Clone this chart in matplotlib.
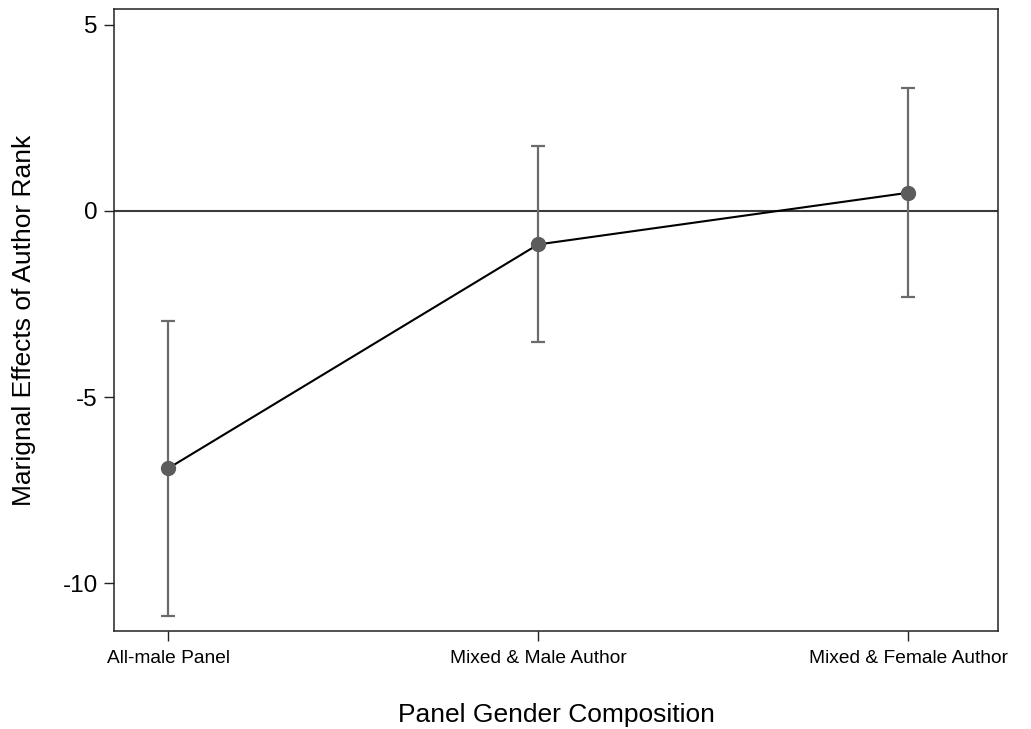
import matplotlib
matplotlib.use("Agg")
import matplotlib.pyplot as plt

plt.rcParams["font.family"] = ["Liberation Sans", "DejaVu Sans"]
plt.rcParams["axes.unicode_minus"] = False

# Marginal effects of author rank by panel gender composition
categories = ["All-male Panel", "Mixed & Male Author", "Mixed & Female Author"]
effects = [-6.92, -0.90, 0.49]
ci_lower = [-10.89, -3.53, -2.32]
ci_upper = [-2.96, 1.74, 3.30]
yticks = [5, 0, -5, -10]

fig = plt.figure(figsize=(10.31, 7.29), dpi=100)
ax = fig.add_axes([0.1106, 0.1344, 0.8574, 0.8533])

x = list(range(len(categories)))
err_lo = [e - lo for e, lo in zip(effects, ci_lower)]
err_hi = [hi - e for e, hi in zip(effects, ci_upper)]

ax.axhline(0, color="#3a3a3a", lw=1.5, zorder=1)
ax.errorbar(x, effects, yerr=[err_lo, err_hi], fmt="none",
            ecolor="#6b6b6b", elinewidth=1.6, capsize=4.7, capthick=1.6, zorder=2)
ax.plot(x, effects, color="black", lw=1.5, zorder=3)
ax.plot(x, effects, "o", color="#5c5c5c", ms=10, zorder=4)

ax.set_xlim(-0.146, 2.243)
ax.set_ylim(-11.29, 5.43)
ax.set_xticks(x)
ax.set_xticklabels(categories, fontsize=13.8)
ax.set_yticks(yticks)
ax.set_yticklabels([str(v) for v in yticks], fontsize=17.5)
ax.tick_params(axis="both", direction="out", length=7.5, width=1.0, color="#222222")
ax.tick_params(axis="y", pad=4.3)
ax.tick_params(axis="x", pad=6)

for sp in ax.spines.values():
    sp.set_color("#222222")
    sp.set_linewidth(1.1)

ax.set_xlabel("Panel Gender Composition", fontsize=19, labelpad=26)
ax.set_ylabel("Marignal Effects of Author Rank", fontsize=19, labelpad=19)

fig.savefig("out.png", dpi=100)
